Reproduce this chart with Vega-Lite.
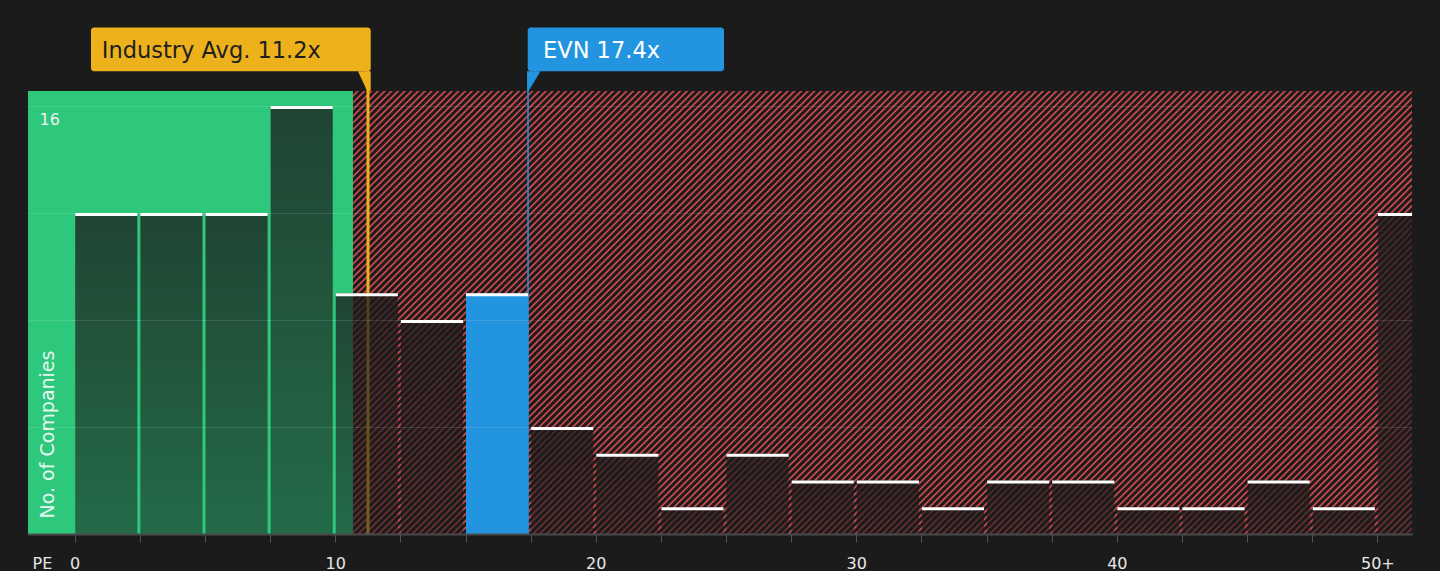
{
  "$schema": "https://vega.github.io/schema/vega-lite/v6.json",
  "width": 1384,
  "height": 443,
  "autosize": {"type": "none"},
  "padding": {"left": 28, "top": 91, "right": 28, "bottom": 37},
  "background": "#1b1b1b",
  "config": {"view": {"stroke": null}, "font": "DejaVu Sans"},
  "datasets": {
    "bins": [
      {"pe_from": 0, "pe_to": 2.5, "companies": 12, "evn": false},
      {"pe_from": 2.5, "pe_to": 5, "companies": 12, "evn": false},
      {"pe_from": 5, "pe_to": 7.5, "companies": 12, "evn": false},
      {"pe_from": 7.5, "pe_to": 10, "companies": 16, "evn": false},
      {"pe_from": 10, "pe_to": 12.5, "companies": 9, "evn": false},
      {"pe_from": 12.5, "pe_to": 15, "companies": 8, "evn": false},
      {"pe_from": 15, "pe_to": 17.5, "companies": 9, "evn": true},
      {"pe_from": 17.5, "pe_to": 20, "companies": 4, "evn": false},
      {"pe_from": 20, "pe_to": 22.5, "companies": 3, "evn": false},
      {"pe_from": 22.5, "pe_to": 25, "companies": 1, "evn": false},
      {"pe_from": 25, "pe_to": 27.5, "companies": 3, "evn": false},
      {"pe_from": 27.5, "pe_to": 30, "companies": 2, "evn": false},
      {"pe_from": 30, "pe_to": 32.5, "companies": 2, "evn": false},
      {"pe_from": 32.5, "pe_to": 35, "companies": 1, "evn": false},
      {"pe_from": 35, "pe_to": 37.5, "companies": 2, "evn": false},
      {"pe_from": 37.5, "pe_to": 40, "companies": 2, "evn": false},
      {"pe_from": 40, "pe_to": 42.5, "companies": 1, "evn": false},
      {"pe_from": 42.5, "pe_to": 45, "companies": 1, "evn": false},
      {"pe_from": 45, "pe_to": 47.5, "companies": 2, "evn": false},
      {"pe_from": 47.5, "pe_to": 50, "companies": 1, "evn": false},
      {"pe_from": 50, "pe_to": 52.5, "companies": 12, "evn": false}
    ],
    "industry": [{"label": "Industry Avg. 11.2x", "pe": 11.2}],
    "company": [{"label": "EVN 17.4x", "pe": 17.4}],
    "zone": [{"zone": "undervalued", "pe_from": -1.8, "pe_to": 10.68, "bottom": 0, "top": 16.56}]
  },
  "layer": [
    {
      "data": {"values": [{"zone": "overvalued"}]},
      "mark": {"type": "rule", "stroke": "#c8484b", "strokeWidth": 1400, "strokeDash": [1.8, 2.95], "strokeCap": "butt", "clip": true},
      "encoding": {
        "x": {
          "datum": 6.84,
          "type": "quantitative",
          "scale": {"domain": [-1.793, 51.33], "nice": false, "zero": false, "padding": 0},
          "axis": {
            "values": [0, 2.5, 5, 7.5, 10, 12.5, 15, 17.5, 20, 22.5, 25, 27.5, 30, 32.5, 35, 37.5, 40, 42.5, 45, 47.5, 50],
            "labelExpr": "datum.value % 10 === 0 ? (datum.value >= 50 ? '50+' : datum.label) : ''",
            "grid": false,
            "zindex": 1,
            "domainColor": "#4a4a4a",
            "domainWidth": 2,
            "tickColor": "#555555",
            "tickSize": 8,
            "labelColor": "#e8e8e8",
            "labelFontSize": 16,
            "labelFont": "DejaVu Sans",
            "labelPadding": 26,
            "labelBaseline": "alphabetic",
            "labelFlush": false,
            "labelOverlap": false,
            "title": "PE",
            "titleX": 4,
            "titleY": 34,
            "titleAlign": "left",
            "titleBaseline": "alphabetic",
            "titleFontSize": 16,
            "titleFontWeight": "normal",
            "titleColor": "#e8e8e8",
            "titleFont": "DejaVu Sans"
          }
        },
        "x2": {"datum": 42.7},
        "y": {
          "datum": 25.74,
          "type": "quantitative",
          "scale": {"domain": [0, 16.56], "nice": false, "zero": false, "padding": 0},
          "axis": {
            "values": [0, 4, 8, 12, 16],
            "labelExpr": "datum.value === 16 ? '16' : ''",
            "grid": true,
            "gridColor": "#ffffff",
            "gridOpacity": 0.12,
            "zindex": 1,
            "domain": false,
            "ticks": false,
            "tickSize": 0,
            "labelAlign": "left",
            "labelBaseline": "top",
            "labelPadding": -11,
            "labelOffset": 6,
            "labelColor": "#f0f0f0",
            "labelFontSize": 16,
            "labelFont": "DejaVu Sans",
            "title": "No. of Companies",
            "titleAngle": 270,
            "titleX": 25.5,
            "titleY": 427,
            "titleAlign": "left",
            "titleBaseline": "alphabetic",
            "titleFontSize": 19,
            "titleFontWeight": "normal",
            "titleColor": "#e6f7ee",
            "titleFont": "DejaVu Sans"
          }
        },
        "y2": {"datum": -9.18}
      }
    },
    {
      "data": {"name": "zone"},
      "mark": {"type": "rect", "fill": "#2ec87d", "clip": true},
      "encoding": {
        "x": {"field": "pe_from", "type": "quantitative"},
        "x2": {"field": "pe_to"},
        "y": {"field": "bottom", "type": "quantitative"},
        "y2": {"field": "top"}
      }
    },
    {
      "data": {"name": "industry"},
      "mark": {"type": "rule", "stroke": "#edb11c", "strokeWidth": 3, "xOffset": 1.5},
      "encoding": {
        "x": {"field": "pe", "type": "quantitative"},
        "y": {"datum": 0, "type": "quantitative"},
        "y2": {"datum": 17.3}
      }
    },
    {
      "data": {"name": "company"},
      "mark": {"type": "rule", "stroke": "#2394e0", "strokeWidth": 1.5},
      "encoding": {
        "x": {"field": "pe", "type": "quantitative"},
        "y": {"datum": 0, "type": "quantitative"},
        "y2": {"datum": 17.3}
      }
    },
    {
      "data": {"name": "bins"},
      "transform": [{"filter": "!datum.evn"}],
      "mark": {
        "type": "rect",
        "clip": true,
        "xOffset": 0.5,
        "x2Offset": -2.5,
        "fill": {
          "gradient": "linear",
          "x1": 0, "y1": 0, "x2": 0, "y2": 1,
          "stops": [
            {"offset": 0, "color": "rgba(27,27,27,0.76)"},
            {"offset": 1, "color": "rgba(27,27,27,0.54)"}
          ]
        }
      },
      "encoding": {
        "x": {"field": "pe_from", "type": "quantitative"},
        "x2": {"field": "pe_to"},
        "y": {"field": "companies", "type": "quantitative"},
        "y2": {"datum": 0}
      }
    },
    {
      "data": {"name": "bins"},
      "transform": [{"filter": "datum.evn"}],
      "mark": {"type": "rect", "clip": true, "xOffset": 0.5, "x2Offset": -2.5, "fill": "#2394e0"},
      "encoding": {
        "x": {"field": "pe_from", "type": "quantitative"},
        "x2": {"field": "pe_to"},
        "y": {"field": "companies", "type": "quantitative"},
        "y2": {"datum": 0}
      }
    },
    {
      "data": {"name": "bins"},
      "mark": {"type": "rule", "stroke": "#ffffff", "strokeWidth": 3, "xOffset": 0.5, "x2Offset": -2.5, "yOffset": 1.5, "clip": true},
      "encoding": {
        "x": {"field": "pe_from", "type": "quantitative"},
        "x2": {"field": "pe_to"},
        "y": {"field": "companies", "type": "quantitative"}
      }
    },
    {
      "data": {"name": "industry"},
      "mark": {"type": "rect", "fill": "#edb11c", "cornerRadius": 3, "xOffset": -275.5, "x2Offset": 4.2},
      "encoding": {
        "x": {"field": "pe", "type": "quantitative"},
        "x2": {"field": "pe"},
        "y": {"datum": 18.93, "type": "quantitative"},
        "y2": {"datum": 17.3}
      }
    },
    {
      "data": {"name": "industry"},
      "mark": {"type": "point", "shape": "M-0.85,-0.975L0.42,-0.975L0.42,0.975L0.05,0.975Z", "size": 400, "filled": true, "fill": "#edb11c", "opacity": 1, "strokeWidth": 0},
      "encoding": {
        "x": {"field": "pe", "type": "quantitative"},
        "y": {"datum": 16.93, "type": "quantitative"}
      }
    },
    {
      "data": {"name": "industry"},
      "mark": {"type": "text", "align": "left", "baseline": "alphabetic", "dx": -264.7, "fontSize": 22.5, "font": "DejaVu Sans", "fill": "#1e1e1e"},
      "encoding": {
        "x": {"field": "pe", "type": "quantitative"},
        "y": {"datum": 17.79, "type": "quantitative"},
        "text": {"field": "label", "type": "nominal"}
      }
    },
    {
      "data": {"name": "company"},
      "mark": {"type": "rect", "fill": "#2394e0", "cornerRadius": 3, "xOffset": -0.3, "x2Offset": 196},
      "encoding": {
        "x": {"field": "pe", "type": "quantitative"},
        "x2": {"field": "pe"},
        "y": {"datum": 18.93, "type": "quantitative"},
        "y2": {"datum": 17.3}
      }
    },
    {
      "data": {"name": "company"},
      "mark": {"type": "point", "shape": "M-0.08,-0.975L1.25,-0.975L0.07,0.975L-0.08,0.975Z", "size": 400, "filled": true, "fill": "#2394e0", "opacity": 1, "strokeWidth": 0},
      "encoding": {
        "x": {"field": "pe", "type": "quantitative"},
        "y": {"datum": 16.93, "type": "quantitative"}
      }
    },
    {
      "data": {"name": "company"},
      "mark": {"type": "text", "align": "left", "baseline": "alphabetic", "dx": 15, "fontSize": 22.5, "font": "DejaVu Sans", "fill": "#ffffff"},
      "encoding": {
        "x": {"field": "pe", "type": "quantitative"},
        "y": {"datum": 17.79, "type": "quantitative"},
        "text": {"field": "label", "type": "nominal"}
      }
    }
  ]
}
